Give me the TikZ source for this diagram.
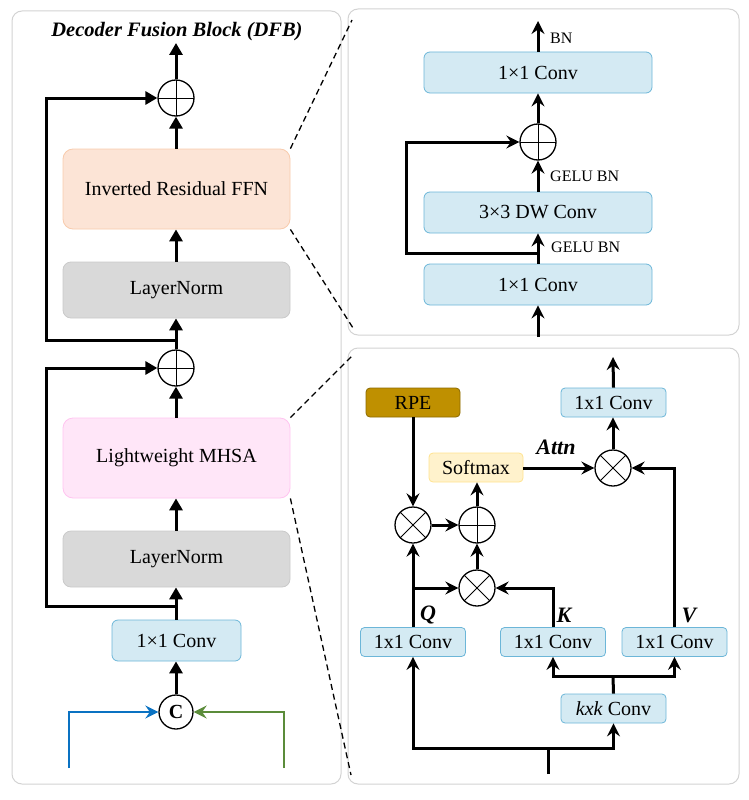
\documentclass[tikz,border=0pt]{standalone}
\usepackage{fontspec}
\setmainfont{Liberation Serif}
\usetikzlibrary{arrows.meta}
\definecolor{convfill}{HTML}{D4EAF3}
\definecolor{convdraw}{HTML}{6CB6D8}
\definecolor{lnfill}{HTML}{D9D9D9}
\definecolor{lndraw}{HTML}{CACACA}
\definecolor{ffnfill}{HTML}{FCE4D6}
\definecolor{ffndraw}{HTML}{F8CBAD}
\definecolor{mhfill}{HTML}{FFE6F8}
\definecolor{mhdraw}{HTML}{FFC4F0}
\definecolor{smfill}{HTML}{FFF2CC}
\definecolor{smdraw}{HTML}{FFE38F}
\definecolor{rpefill}{HTML}{BF9000}
\definecolor{rpedraw}{HTML}{8C6A00}
\definecolor{panel}{HTML}{D3D3D3}
\definecolor{blueline}{HTML}{0A72C2}
\definecolor{greenline}{HTML}{5B8C3A}
\begin{document}
\begin{tikzpicture}[x=1pt,y=-1pt,
  box/.style={rounded corners=6pt, line width=0.8pt, minimum height=#1, inner sep=0pt, font=\fontsize{20}{20}\selectfont},
  box/.default=41pt,
  conv/.style={box, fill=convfill, draw=convdraw},
  sconv/.style={rounded corners=4pt, line width=0.8pt, fill=convfill, draw=convdraw, minimum height=29pt, minimum width=105pt, inner sep=0pt, font=\fontsize{20}{20}\selectfont},
  op/.style={circle, draw, line width=1.3pt, minimum size=36pt, inner sep=0pt},
  plusop/.style={op, path picture={\draw[line width=0.9pt] (path picture bounding box.north) -- (path picture bounding box.south) (path picture bounding box.west) -- (path picture bounding box.east);}},
  mulop/.style={op, path picture={\draw[line width=0.9pt] (path picture bounding box.north west) -- (path picture bounding box.south east) (path picture bounding box.south west) -- (path picture bounding box.north east);}},
  flow/.style={line width=3pt, -{Triangle[length=12pt,width=13pt]}},
  sflow/.style={line width=3pt, -{Stealth[length=13pt,width=13pt,inset=4.5pt]}},
  plain/.style={line width=3pt},
  lbl/.style={font=\fontsize{16}{16}\selectfont, anchor=west, inner sep=0pt},
  qkv/.style={font=\bfseries\itshape\fontsize{22}{22}\selectfont, inner sep=0pt},
  pnl/.style={draw=panel, line width=1pt, rounded corners=10pt},
  zoomline/.style={line width=1.3pt, dash pattern=on 6pt off 4pt}
]
\useasboundingbox (0,0) rectangle (748,800);
% panels
\draw[pnl] (12,11) rectangle (341,784);
\draw[pnl] (348,9) rectangle (739,335);
\draw[pnl] (348,348) rectangle (739,784);

% ---------- left panel ----------
\node[font=\bfseries\itshape\fontsize{20.5}{20.5}\selectfont] (title) at (177,32) {Decoder Fusion Block (DFB)};
\coordinate (out) at (176,43);
\node[plusop] (p1) at (176,98) {};
\node[box=80pt, minimum width=227pt, fill=ffnfill, draw=ffndraw, rounded corners=10pt] (ffn) at (176.5,189) {Inverted Residual FFN};
\node[box=56pt, minimum width=227pt, fill=lnfill, draw=lndraw, rounded corners=8pt] (ln1) at (176.5,290) {LayerNorm};
\node[plusop] (p2) at (176,368) {};
\node[box=80pt, minimum width=227pt, fill=mhfill, draw=mhdraw, rounded corners=10pt] (mh) at (176.5,458) {Lightweight MHSA};
\node[box=56pt, minimum width=227pt, fill=lnfill, draw=lndraw, rounded corners=8pt] (ln2) at (176.5,559) {LayerNorm};
\node[conv, minimum width=129pt] (c0) at (176.5,640.5) {1\texttimes1 Conv};
\node[circle, draw, line width=1.3pt, minimum size=34pt, inner sep=0pt, font=\bfseries\fontsize{20}{20}\selectfont] (cat) at (176,712) {C};
\coordinate (bl) at (69,768);
\coordinate (gr) at (284,768);
\coordinate (s1) at (176,340);
\coordinate (s2) at (176,606);

\draw[flow] (p1.north) -- (out);
\draw[flow] (ffn.north -| p1) -- (p1.south);
\draw[flow] (ln1.north -| p1) -- (ffn.south -| p1);
\draw[flow] (p2.north) -- (ln1.south -| p2);
\draw[flow] (mh.north -| p2) -- (p2.south);
\draw[flow] (ln2.north -| p2) -- (mh.south -| p2);
\draw[flow] (c0.north -| p2) -- (ln2.south -| p2);
\draw[flow] (cat.north) -- (c0.south -| cat);
\draw[flow, line join=miter] (s1) -- (46,340) -- (46,98) -- (p1.west);
\draw[flow, line join=miter] (s2) -- (46,606) -- (46,368) -- (p2.west);
\draw[line width=2.6pt, blueline, line join=miter, -{Stealth[length=13pt,width=13pt,inset=4.5pt]}] (bl) |- (cat.west);
\draw[line width=2.6pt, greenline, line join=miter, -{Stealth[length=13pt,width=13pt,inset=4.5pt]}] (gr) |- (cat.east);

% zoom lines
\coordinate (z1) at (352,20);
\coordinate (z2) at (353,328);
\coordinate (z3) at (352,356);
\coordinate (z4) at (351,775);
\draw[zoomline] (ffn.north east) -- (z1);
\draw[zoomline] (ffn.south east) -- (z2);
\draw[zoomline] (mh.north east) -- (z3);
\draw[zoomline] (mh.south east) -- (z4);

% ---------- right top panel ----------
\node[conv, minimum width=228pt] (f3) at (538,72.5) {1\texttimes1 Conv};
\node[plusop] (fp) at (538,142) {};
\node[conv, minimum width=228pt] (f2) at (538,212.5) {3\texttimes3 DW Conv};
\node[conv, minimum width=228pt] (f1) at (538,284.5) {1\texttimes1 Conv};
\coordinate (fout) at (538,21);
\coordinate (fin) at (538,337);
\coordinate (fs) at (538,253);
\draw[sflow] (f3.north) -- (fout);
\node[lbl] (bn) at (550,38) {BN};
\draw[sflow] (fp.north) -- (f3.south);
\draw[sflow] (f2.north) -- (fp.south);
\node[lbl] (g2) at (550,176) {GELU BN};
\draw[sflow] (f1.north) -- (f2.south);
\node[lbl] (g1) at (551,247) {GELU BN};
\draw[sflow] (fin) -- (f1.south);
\draw[sflow, line join=miter] (fs) -- (406,253) -- (406,142) -- (fp.west);

% ---------- right bottom panel ----------
\node[box=29pt, minimum width=94pt, fill=rpefill, draw=rpedraw, rounded corners=4pt] (rpe) at (413,402.5) {RPE};
\node[box=29pt, minimum width=94pt, fill=smfill, draw=smdraw, rounded corners=4pt] (sm) at (476,467.5) {Softmax};
\node[sconv] (oc) at (613.5,402.5) {1x1 Conv};
\node[mulop] (m1) at (413,525) {};
\node[plusop] (pa) at (477,525) {};
\node[mulop] (m2) at (477,588) {};
\node[mulop] (m3) at (613,468) {};
\node[sconv] (qc) at (413,642) {1x1 Conv};
\node[sconv] (kc) at (553,642) {1x1 Conv};
\node[sconv] (vc) at (674.5,642) {1x1 Conv};
\node[sconv] (kk) at (613.5,708.5) {\textit{kxk} Conv};
\coordinate (oout) at (613,357);
\coordinate (bin) at (548,774);
\coordinate (bj) at (548,748);
\coordinate (qs) at (413,588);
\coordinate (kks) at (613,676);

\draw[sflow] (oc.north) -- (oout);
\draw[sflow] (m3.north) -- (oc.south -| m3);
\draw[sflow] (sm.east |- m3) -- (m3.west);
\node[qkv] (attn) at (556,447) {Attn};
\draw[sflow] (rpe.south) -- (m1.north);
\draw[sflow] (m1.east) -- (pa.west);
\draw[sflow] (pa.north) -- (sm.south -| pa);
\draw[sflow] (m2.north) -- (pa.south);
\draw[sflow] (qc.north) -- (m1.south);
\draw[sflow] (qs) -- (m2.west);
\draw[sflow, line join=miter] (kc.north) |- (m2.east);
\draw[sflow, line join=miter] (vc.north) |- (m3.east);
\node[qkv] (ql) at (428,615) {Q};
\node[qkv] (kl) at (564,615) {K};
\node[qkv] (vl) at (689,615) {V};
\draw[plain] (kk.north) -- (kks);
\draw[sflow, line join=miter] (kks) -| (kc.south);
\draw[sflow, line join=miter] (kks) -| (vc.south);
\draw[plain] (bin) -- (bj);
\draw[sflow, line join=miter] (bj) -| (qc.south);
\draw[sflow, line join=miter] (bj) -| (kk.south);
\end{tikzpicture}
\end{document}
